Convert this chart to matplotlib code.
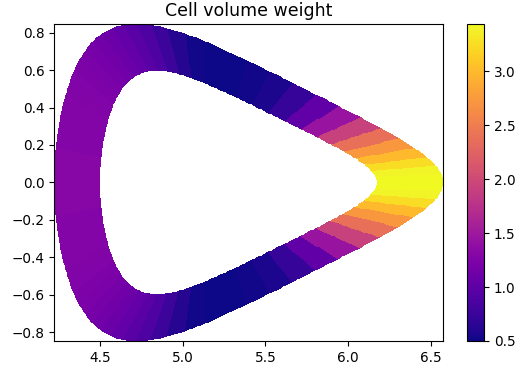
import numpy as np
import matplotlib
matplotlib.use("Agg")
import matplotlib.pyplot as plt

# cell volume weight per 5 deg poloidal cell, outboard midplane (0 deg) -> inboard midplane (180 deg)
# lower half of the section is the mirror image
weight_top = [3.44, 3.40, 3.25, 3.00, 2.72, 2.38, 1.92, 1.45, 1.02, 0.72,
              0.58, 0.53, 0.50, 0.50, 0.53, 0.62, 0.76, 0.88, 0.97, 1.04,
              1.10, 1.14, 1.18, 1.21, 1.23, 1.25, 1.26, 1.27, 1.28, 1.28,
              1.29, 1.29, 1.30, 1.30, 1.30, 1.30]

# flux surface shapes (R0, minor radius, triangularity, elongation, squareness)
outer_shape = (5.3975, 1.1755, 0.576, 0.72, -0.2)
inner_shape = (5.337, 0.837, 0.588, 0.713, -0.2)
n_rad = 12
n_sub = 5  # mesh nodes per weight cell, only to get a smooth outline


def surface(theta, r0, a, delta, kappa, zeta):
    R = r0 + a * np.cos(theta + np.arcsin(delta) * np.sin(theta))
    Z = kappa * a * np.sin(theta + zeta * np.sin(2 * theta))
    return R, Z


weights = np.repeat(weight_top + weight_top[::-1], n_sub)
n_pol = len(weights)
theta = np.linspace(0, 2 * np.pi, n_pol + 1)
s = np.linspace(0, 1, n_rad + 1)[:, None]

R_in, Z_in = surface(theta, *inner_shape)
R_out, Z_out = surface(theta, *outer_shape)
R = (1 - s) * R_in + s * R_out
Z = (1 - s) * Z_in + s * Z_out
C = np.tile(weights, (n_rad, 1))

fig = plt.figure(figsize=(5.18, 3.70), dpi=100)
ax = fig.add_axes([0.1042, 0.0784, 0.751, 0.857])
cax = fig.add_axes([0.9015, 0.0784, 0.0328, 0.857])

mesh = ax.pcolormesh(R, Z, C, cmap="plasma", shading="flat", vmin=0.5, vmax=3.44)
ax.set_title("Cell volume weight", fontsize=12.5)
ax.tick_params(labelsize=9.8)
cb = fig.colorbar(mesh, cax=cax)
cb.ax.tick_params(labelsize=9.8)

fig.savefig("out.png", dpi=100)
